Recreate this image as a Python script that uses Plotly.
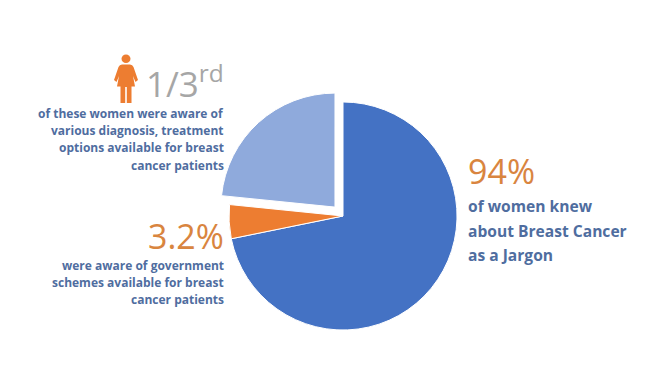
import plotly.graph_objects as go

W, H = 671, 389
slice_names = ["Knew the term", "Aware of government schemes", "Aware of diagnosis and treatment options"]
slice_values = [71.8, 4.8, 23.4]
slice_colors = ["#4472C4", "#ED7D31", "#8FAADC"]
slice_pull = [0, 0, 0.105]

headline_third = "1/3<sup>rd</sup>"
third_lines = ["of these women were aware of", "various diagnosis, treatment",
               "options available for breast", "cancer patients"]
headline_schemes = "3.2%"
scheme_lines = ["were aware of government", "schemes available for breast", "cancer patients"]
headline_jargon = "94%"
jargon_lines = ["of women knew", "about Breast Cancer", "as a Jargon"]

FONT = "Open Sans"
BLUE_TEXT = "#4F6D9F"


def px(x):
    return x / W


def py(y):
    return 1 - y / H


def note(text, x, y, anchor, size, color, weight=700):
    return dict(text=text, x=px(x), y=py(y), xref="paper", yref="paper", xanchor=anchor, yanchor="middle",
                showarrow=False, font=dict(family=FONT, size=size, color=color, weight=weight))


annotations = [
    note(headline_third, 226, 82, "right", 35, "#A6A6A6", 400),
    note(headline_schemes, 226, 236, "right", 34, "#D9853F", 400),
    note(headline_jargon, 466, 171, "left", 34, "#D9853F", 400),
]
for i, line in enumerate(third_lines):
    annotations.append(note(line, 226, 113.5 + i * 17.2, "right", 12, BLUE_TEXT))
for i, line in enumerate(scheme_lines):
    annotations.append(note(line, 226, 265 + i * 17.2, "right", 12, BLUE_TEXT))
for i, line in enumerate(jargon_lines):
    annotations.append(note(line, 466, 206 + i * 24.5, "left", 15.6, BLUE_TEXT))

cx, cy, half = 343, 216, 126
fig = go.Figure(go.Pie(
    labels=slice_names, values=slice_values, sort=False, direction="clockwise", rotation=0,
    pull=slice_pull, textinfo="none", hoverinfo="label+percent", showlegend=False,
    marker=dict(colors=slice_colors, line=dict(color="white", width=1)),
    domain=dict(x=[px(cx - half), px(cx + half)], y=[py(cy + half), py(cy - half)]),
))

ORANGE = "#ED7D31"
icon = ("M 122 64.5 L 130 64.5 Q 132.5 64.5 133.5 67 L 138 80 L 135.5 82 L 133 76 L 135 86.5 L 131.5 86.5 L 131.5 103 "
        "L 126.8 103 L 126.8 87 L 125.2 87 L 125.2 103 L 120.5 103 L 120.5 86.5 L 117 86.5 L 119 76 L 116.5 82 L 114 80 "
        "L 118.5 67 Q 119.5 64.5 122 64.5 Z")
fig.update_layout(
    width=W, height=H, margin=dict(l=0, r=0, t=0, b=0), paper_bgcolor="white", plot_bgcolor="white",
    annotations=annotations,
    xaxis=dict(visible=False, range=[0, W], domain=[0, 1], fixedrange=True),
    yaxis=dict(visible=False, range=[H, 0], domain=[0, 1], fixedrange=True),
    shapes=[
        dict(type="circle", xref="x", yref="y", x0=121.5, x1=130.5, y0=54.5, y1=63, fillcolor=ORANGE, line_width=0),
        dict(type="path", xref="x", yref="y", path=icon, fillcolor=ORANGE, line_width=0),
    ],
)
fig.write_html("out.html", post_script="document.body.style.margin='0';", config={"displayModeBar": False})
